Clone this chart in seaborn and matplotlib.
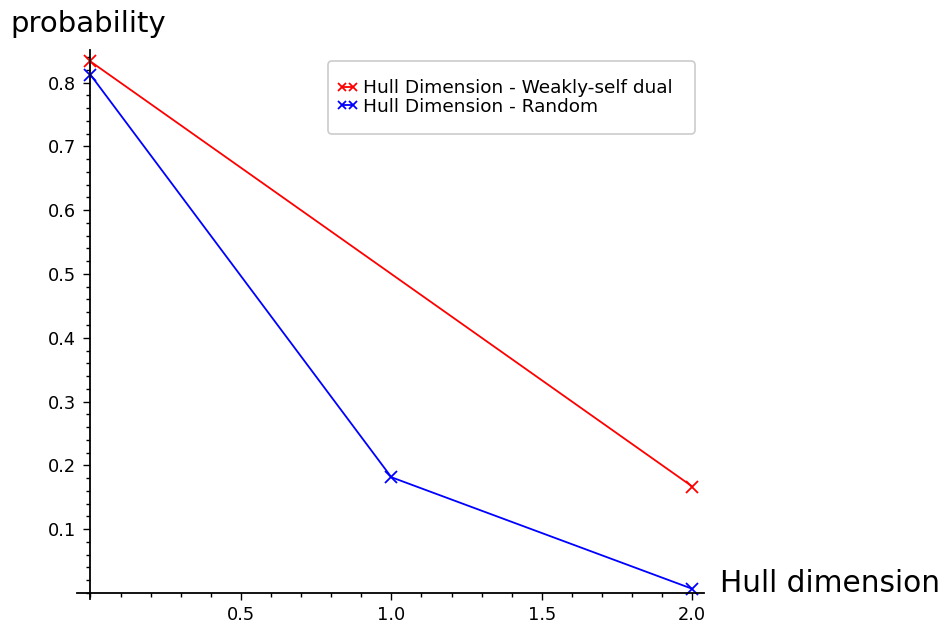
import matplotlib
matplotlib.use("Agg")
import matplotlib.pyplot as plt
from matplotlib.ticker import MultipleLocator, FixedLocator
import seaborn as sns
import pandas as pd

# Hull dimension probabilities
hull_dim_wsd = [0, 2]
prob_wsd = [0.8333, 0.1667]
hull_dim_rand = [0, 1, 2]
prob_rand = [0.8125, 0.18125, 0.00625]

label_wsd = "Hull Dimension - Weakly-self dual"
label_rand = "Hull Dimension - Random"

x_major_ticks = [0.5, 1.0, 1.5, 2.0]
y_major_ticks = [0.1, 0.2, 0.3, 0.4, 0.5, 0.6, 0.7, 0.8]

sns.set_style("white")
plt.rcParams["font.family"] = ["DejaVu Sans"]
for key in ("text.color", "axes.labelcolor", "xtick.color", "ytick.color",
            "axes.edgecolor"):
    plt.rcParams[key] = "black"

df_wsd = pd.DataFrame({"dim": hull_dim_wsd, "prob": prob_wsd})
df_rand = pd.DataFrame({"dim": hull_dim_rand, "prob": prob_rand})

fig = plt.figure(figsize=(9.47, 6.28), dpi=100)
ax = fig.add_axes([0.0818, 0.0462, 0.6616, 0.8742])

sns.lineplot(data=df_wsd, x="dim", y="prob", ax=ax, color="#ff0000",
             marker="x", markersize=9, markeredgewidth=1.3,
             markeredgecolor="#ff0000", linewidth=1.3, label=label_wsd,
             legend=False)
sns.lineplot(data=df_rand, x="dim", y="prob", ax=ax, color="#0000ff",
             marker="x", markersize=9, markeredgewidth=1.3,
             markeredgecolor="#0000ff", linewidth=1.3, label=label_rand,
             legend=False)

ax.set_xlim(-0.0432, 2.039)
ax.set_ylim(-0.0097, 0.8513)

# axes crossing at the origin
for side in ("top", "right"):
    ax.spines[side].set_visible(False)
ax.spines["left"].set_position(("data", 0))
ax.spines["bottom"].set_position(("data", 0))
for side in ("left", "bottom"):
    ax.spines[side].set_color("black")
    ax.spines[side].set_linewidth(1.3)

ax.xaxis.set_major_locator(FixedLocator(x_major_ticks))
ax.yaxis.set_major_locator(FixedLocator(y_major_ticks))
ax.xaxis.set_minor_locator(MultipleLocator(0.1))
ax.yaxis.set_minor_locator(MultipleLocator(0.02))
ax.set_xticklabels([f"{v:.1f}" for v in x_major_ticks])
ax.set_yticklabels([f"{v:.1f}" for v in y_major_ticks])

ax.tick_params(axis="both", which="both", direction="out", color="black",
               labelcolor="black", width=1.0, bottom=True, left=True)
ax.tick_params(axis="both", which="major", length=5, labelsize=12.8)
ax.tick_params(axis="both", which="minor", length=3)
ax.tick_params(axis="x", which="major", pad=4.5)
ax.tick_params(axis="y", which="major", pad=5.5)

ax.set_xlabel("")
ax.set_ylabel("")
fig.text(10 / 947, 1 - 31.7 / 628, "probability", fontsize=21,
         ha="left", va="baseline", color="black")
fig.text(720 / 947, 1 - 592 / 628, "Hull dimension", fontsize=21.3,
         ha="left", va="baseline", color="black")

leg = ax.legend(loc="upper left",
                bbox_to_anchor=(0.4006, 0.0, 0.585, 0.9616),
                mode="expand", borderaxespad=0, fontsize=13.3, numpoints=2,
                markerscale=0.6, handlelength=1.19, handletextpad=0.25,
                labelspacing=0.02, borderpad=0.45,
                fancybox=True, frameon=True, edgecolor="#cccccc",
                framealpha=1.0)
frame = leg.get_frame()
frame.set_linewidth(1.2)

# give the legend frame extra room above and below the entries
_extra = 10.1
_orig_set_bounds = frame.set_bounds


def _taller_bounds(*args):
    l, b, w, h = args[0] if len(args) == 1 else args
    _orig_set_bounds(l, b - _extra, w, h + 2 * _extra)


frame.set_bounds = _taller_bounds

fig.savefig("out.png", dpi=100)
